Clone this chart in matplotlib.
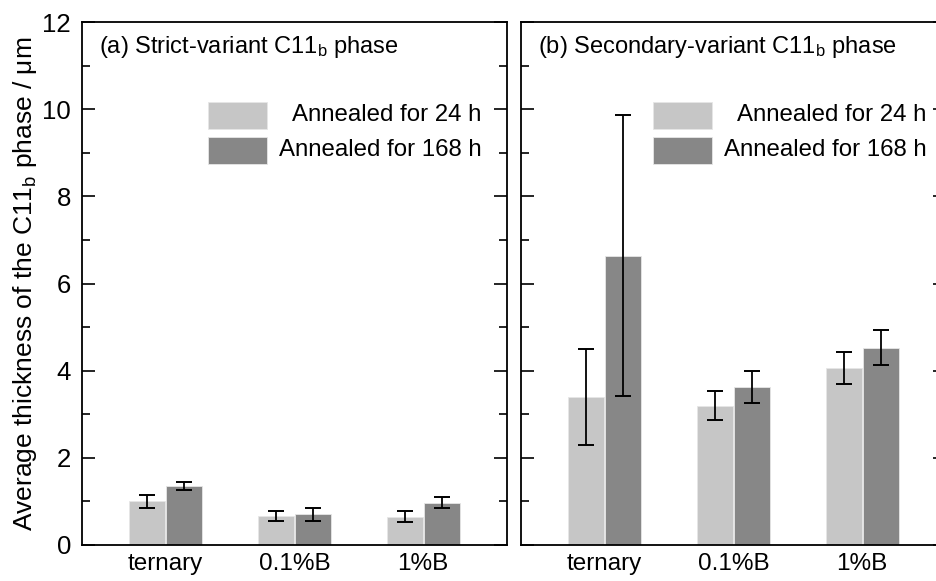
import matplotlib
matplotlib.use("Agg")
import matplotlib.pyplot as plt
import numpy as np
from matplotlib.patches import Rectangle
from matplotlib.ticker import MultipleLocator

plt.rcParams["font.family"] = ["Liberation Sans", "DejaVu Sans"]
plt.rcParams["mathtext.fontset"] = "custom"
plt.rcParams["mathtext.rm"] = "Liberation Sans"
plt.rcParams["mathtext.it"] = "Liberation Sans"

categories = ["ternary", "0.1%B", "1%B"]
series_labels = ["Annealed for 24 h", "Annealed for 168 h"]

# (a) strict-variant
strict_24h = [1.00, 0.67, 0.65]
strict_24h_err = [0.14, 0.12, 0.13]
strict_168h = [1.35, 0.70, 0.97]
strict_168h_err = [0.09, 0.14, 0.13]

# (b) secondary-variant
second_24h = [3.40, 3.20, 4.06]
second_24h_err = [1.10, 0.34, 0.36]
second_168h = [6.64, 3.62, 4.53]
second_168h_err = [3.22, 0.37, 0.41]

LIGHT = "#c6c6c6"
DARK = "#878787"

fig = plt.figure(figsize=(9.36, 5.81), dpi=100)
ax_a = fig.add_axes([0.0876, 0.062, 0.454, 0.900])
ax_b = fig.add_axes([0.5566, 0.062, 0.454, 0.900])


def draw_panel(ax, v24, e24, v168, e168, title, leg_x, text_x):
    x = np.arange(1, len(categories) + 1)
    w = 0.28
    off = 0.145
    err_kw = dict(ecolor="black", elinewidth=1.3, capsize=6, capthick=1.4)
    ax.bar(x - off, v24, w, color=LIGHT, edgecolor="#e6e6e6", linewidth=0.6,
           yerr=e24, error_kw=err_kw)
    ax.bar(x + off, v168, w, color=DARK, edgecolor="#e6e6e6", linewidth=0.6,
           yerr=e168, error_kw=err_kw)
    ax.set_xlim(0.35, 3.65)
    ax.set_ylim(0, 12)
    ax.set_xticks(x)
    ax.set_xticklabels(categories, fontsize=17.5)
    ax.tick_params(axis="x", length=0, pad=6)
    ax.yaxis.set_major_locator(MultipleLocator(2))
    ax.yaxis.set_minor_locator(MultipleLocator(1))
    ax.tick_params(axis="y", which="major", direction="in", length=9.5, width=1.2,
                   left=True, right=True, labelsize=18.5, pad=8)
    ax.tick_params(axis="y", which="minor", direction="in", length=5.5, width=1.2,
                   left=True, right=True)
    for s in ax.spines.values():
        s.set_linewidth(1.3)
    ax.text(0.039, 0.952, title, transform=ax.transAxes, fontsize=17,
            ha="left", va="center")

    # legend drawn by hand so the labels are right aligned
    for y0, col, lab in [(0.795, LIGHT, series_labels[0]),
                         (0.728, DARK, series_labels[1])]:
        ax.add_patch(Rectangle((leg_x, y0), 0.139, 0.053, transform=ax.transAxes,
                               facecolor=col, edgecolor="#e6e6e6", linewidth=0.6))
        ax.text(text_x, y0 + 0.027, lab, transform=ax.transAxes, fontsize=17.3,
                ha="right", va="center")


draw_panel(ax_a, strict_24h, strict_24h_err, strict_168h, strict_168h_err,
           "(a) Strict-variant C11$_\\mathregular{b}$ phase", 0.296, 0.941)
draw_panel(ax_b, second_24h, second_24h_err, second_168h, second_168h_err,
           "(b) Secondary-variant C11$_\\mathregular{b}$ phase", 0.310, 0.954)

ax_a.set_ylabel("Average thickness of the C11$_\\mathregular{b}$ phase / \u03bcm",
                fontsize=19, labelpad=2)
ax_b.tick_params(axis="y", labelleft=False)

fig.savefig("out.png", dpi=100)
